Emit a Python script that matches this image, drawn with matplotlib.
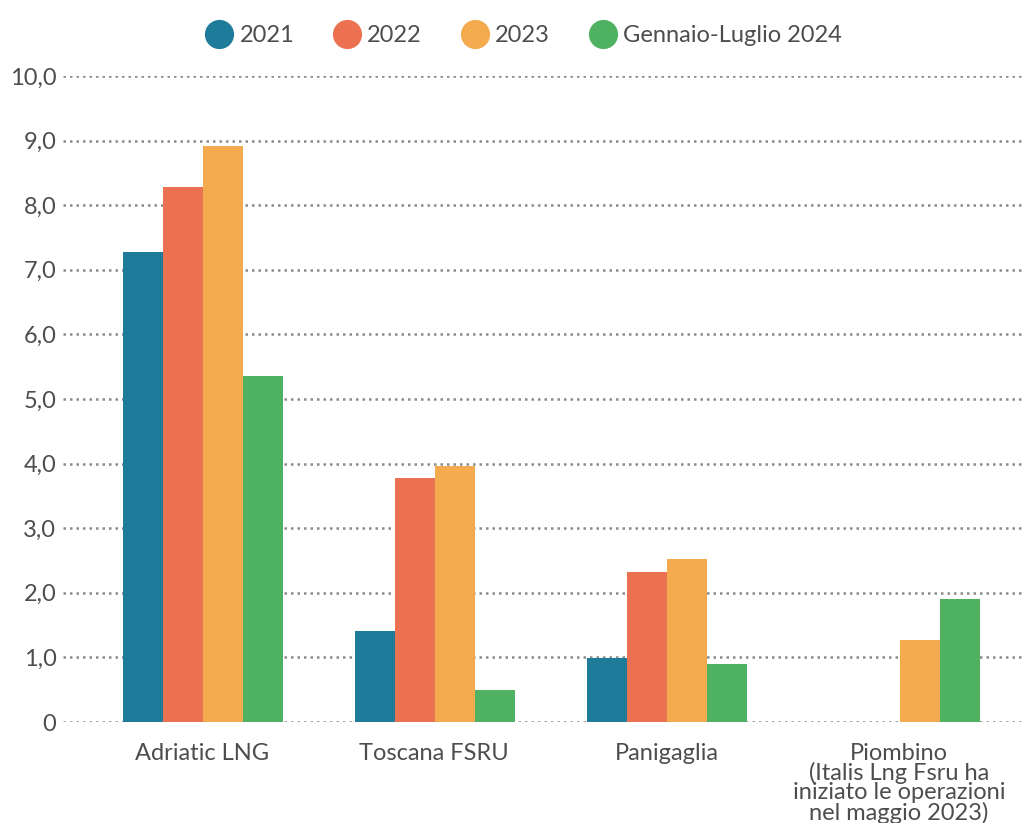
import numpy as np
import matplotlib
matplotlib.use("Agg")
import matplotlib.pyplot as plt
from matplotlib.lines import Line2D

plt.rcParams["font.family"] = ["Lato", "DejaVu Sans"]

categories = ["Adriatic LNG", "Toscana FSRU", "Panigaglia",
              "Piombino\n(Italis Lng Fsru ha\niniziato le operazioni\nnel maggio 2023)"]
series_names = ["2021", "2022", "2023", "Gennaio-Luglio 2024"]
values_2021 = [7.27, 1.41, 0.99, np.nan]
values_2022 = [8.28, 3.78, 2.32, np.nan]
values_2023 = [8.91, 3.96, 2.53, 1.27]
values_2024 = [5.36, 0.50, 0.90, 1.90]
y_ticks = [0, 1, 2, 3, 4, 5, 6, 7, 8, 9, 10]
y_labels = ["0", "1,0", "2,0", "3,0", "4,0", "5,0", "6,0", "7,0", "8,0", "9,0", "10,0"]

colors = ["#1f7b9a", "#ec7151", "#f4aa4e", "#4fb262"]
text_color = "#4d4d4d"

fig = plt.figure(figsize=(10.22, 8.23), dpi=100)
ax = fig.add_axes([0.062, 0.1227, 0.938, 0.785])

x = np.arange(len(categories))
w = 0.172
all_series = [values_2021, values_2022, values_2023, values_2024]
for i, vals in enumerate(all_series):
    ax.bar(x + (i - 1.5) * w + 0.004, vals, width=w, color=colors[i], zorder=3)

ax.set_xlim(-0.595, 3.53)
ax.set_ylim(0, 10)
ax.set_yticks(y_ticks)
ax.set_yticklabels(y_labels)
ax.set_xticks(x)
ax.set_xticklabels(categories, linespacing=0.9)

for s in ax.spines.values():
    s.set_visible(False)
ax.tick_params(axis="both", length=0, colors=text_color)
ax.tick_params(axis="y", labelsize=17, pad=5)
ax.tick_params(axis="x", labelsize=17, pad=15)
ax.yaxis.grid(True, linestyle=(0, (1, 1.6)), color="#8a8a8a", linewidth=1.8, zorder=0)
ax.set_axisbelow(True)

handles = [Line2D([], [], marker="o", linestyle="", markersize=20,
                  markerfacecolor=c, markeredgecolor=c) for c in colors]
fig.legend(handles, series_names, loc="upper center", bbox_to_anchor=(0.51, 0.995),
           ncol=4, frameon=False, fontsize=17, labelcolor=text_color,
           handletextpad=0.05, columnspacing=1.45, handlelength=1.6)

fig.savefig("out.png", dpi=100)
